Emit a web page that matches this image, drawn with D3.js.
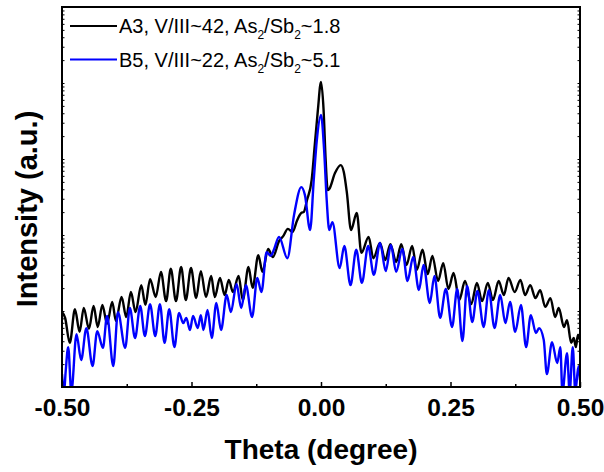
<!DOCTYPE html>
<html>
<head>
<meta charset="utf-8">
<script src="https://cdn.jsdelivr.net/npm/d3@7"></script>
<style>
  body { margin: 0; background: #fff; }
  text { font-family: Arial, "Liberation Sans", sans-serif; }
</style>
</head>
<body>
<div id="chart"></div>
<script>
// theta (degree) and intensity (a.u.) at fringe peaks/troughs
const thetaA3 = [-0.5, -0.494, -0.485, -0.475, -0.466, -0.458, -0.448, -0.439, -0.431, -0.422, -0.413, -0.403, -0.396, -0.385, -0.376, -0.367, -0.358, -0.347, -0.339, -0.330,
  -0.319, -0.309, -0.299, -0.290, -0.280, -0.270, -0.261, -0.251, -0.241, -0.232, -0.222, -0.212, -0.205, -0.195, -0.186, -0.178, -0.170, -0.159, -0.151, -0.140,
  -0.132, -0.121, -0.113, -0.102, -0.093, -0.081, -0.073, -0.064, -0.055, -0.046, -0.038, -0.033, -0.027, -0.018, -0.012, -0.006, 0, 0.005, 0.009, 0.013,
  0.016, 0.027, 0.038, 0.044, 0.050, 0.058, 0.069, 0.078, 0.092, 0.101, 0.114, 0.124, 0.134, 0.145, 0.155, 0.165, 0.176, 0.185, 0.196, 0.206,
  0.215, 0.226, 0.236, 0.246, 0.256, 0.267, 0.278, 0.290, 0.301, 0.311, 0.322, 0.332, 0.343, 0.353, 0.362, 0.374, 0.385, 0.394, 0.404, 0.414,
  0.423, 0.433, 0.443, 0.452, 0.459, 0.469, 0.475, 0.483, 0.488, 0.492, 0.496, 0.5];
const intA3 = [19.7, 18.2, 11.6, 20.5, 14.5, 20.8, 15.3, 21.3, 15.8, 21.6, 16.6, 22.4, 17.4, 23.7, 18.4, 25.0, 19.7, 26.8, 21.6, 28.4,
  23.7, 30.3, 22.6, 31.1, 22.6, 31.6, 22.9, 31.3, 23.4, 30.5, 23.7, 29.2, 23.7, 28.7, 24.2, 28.2, 25.0, 29.2, 22.9, 31.6,
  26.1, 34.7, 30.3, 36.3, 34.2, 38.4, 39.7, 41.6, 40.8, 43.9, 45.8, 46.1, 49.2, 54.5, 63.7, 72.9, 80.3, 72.9, 59.7, 51.8,
  52.1, 56.3, 58.4, 56.6, 51.1, 41.3, 45.8, 35.3, 39.5, 33.9, 37.9, 33.4, 37.6, 32.9, 37.6, 32.1, 37.1, 30.8, 36.1, 29.7,
  34.5, 27.9, 32.6, 25.8, 30.0, 22.9, 27.9, 21.8, 27.4, 22.6, 27.4, 22.9, 27.9, 24.2, 28.7, 25.0, 28.2, 24.2, 26.8, 23.4,
  25.5, 21.1, 23.4, 18.4, 20.8, 15.8, 17.6, 11.6, 12.9, 10.5, 13.7, 12.4];

const thetaB5 = [-0.5, -0.496, -0.493, -0.488, -0.482, -0.472, -0.463, -0.453, -0.441, -0.432, -0.421, -0.413, -0.401, -0.392, -0.378, -0.369, -0.359, -0.349, -0.340, -0.330,
  -0.320, -0.311, -0.302, -0.293, -0.283, -0.274, -0.266, -0.260, -0.253, -0.247, -0.238, -0.232, -0.227, -0.219, -0.211, -0.202, -0.193, -0.182, -0.174, -0.163,
  -0.154, -0.145, -0.133, -0.123, -0.115, -0.105, -0.097, -0.091, -0.081, -0.065, -0.052, -0.038, -0.031, -0.021, -0.014, -0.008, 0, 0.006, 0.011, 0.016,
  0.022, 0.036, 0.045, 0.057, 0.068, 0.079, 0.091, 0.102, 0.114, 0.125, 0.135, 0.145, 0.157, 0.167, 0.178, 0.189, 0.198, 0.210, 0.219, 0.230,
  0.241, 0.253, 0.263, 0.273, 0.282, 0.292, 0.302, 0.314, 0.324, 0.335, 0.346, 0.356, 0.365, 0.375, 0.386, 0.396, 0.405, 0.415, 0.421, 0.430,
  0.436, 0.446, 0.456, 0.462, 0.466, 0.475, 0.480, 0.486, 0.491, 0.497, 0.5];
const intB5 = [3.4, -1.3, 3.9, 10.5, -1.3, 13.9, 7.1, 15.5, 5.5, 14.7, 10.3, 18.7, 5.5, 19.7, 10.3, 20.8, 12.9, 21.3, 13.4, 21.8,
  13.4, 21.8, 11.6, 20.5, 10.5, 19.5, 16.8, 18.2, 15.0, 18.7, 15.5, 18.9, 15.0, 20.3, 12.9, 22.1, 15.0, 24.2, 19.7, 27.1,
  20.8, 26.8, 18.4, 28.7, 25.0, 35.5, 34.5, 36.1, 39.5, 33.9, 45.3, 52.6, 50.5, 41.3, 54.5, 65.0, 71.6, 62.4, 49.2, 41.3,
  43.4, 31.3, 37.1, 26.8, 36.1, 27.4, 37.1, 29.5, 37.9, 30.5, 37.4, 30.3, 36.3, 27.9, 34.2, 25.5, 32.1, 22.1, 29.2, 18.2,
  25.8, 15.8, 25.8, 12.1, 26.6, 17.1, 25.3, 15.8, 25.5, 15.5, 24.2, 16.8, 22.4, 14.5, 21.6, 10.5, 18.9, 14.2, 15.5, 12.4,
  3.4, 11.8, 6.3, 10.5, -1.3, 8.9, -1.3, 10.5, -1.3, 5.5, 1.8];

const xTicks = [-0.5, -0.25, 0, 0.25, 0.5];
const xMinorTicks = [-0.375, -0.125, 0.125, 0.375];
const seriesLabels = [
  ["A3, V/III~42, As", "/Sb", "~1.8"],
  ["B5, V/III~22, As", "/Sb", "~5.1"]
];
const seriesColors = ["#000000", "#0000ff"];

const svgWidth = 604, svgHeight = 472;
const margin = { top: 7, right: 24, bottom: 85, left: 62 };
const width = svgWidth - margin.left - margin.right;
const height = svgHeight - margin.top - margin.bottom;

const svg = d3.select("#chart").append("svg")
    .attr("width", svgWidth)
    .attr("height", svgHeight);

const g = svg.append("g")
    .attr("transform", `translate(${margin.left},${margin.top})`);

const x = d3.scaleLinear().domain([-0.5, 0.5]).range([0, width]);
const y = d3.scaleLinear().domain([0, 100]).range([height, 0]);
// unlabeled log intensity axis, only its little ticks show on the spines
const yLog = d3.scaleLog().domain([1, 1e5]).range([height, 0]);

g.append("clipPath").attr("id", "clip")
  .append("rect").attr("width", width).attr("height", height);

const line = d3.line()
    .x(d => x(d[0]))
    .y(d => y(d[1]))
    .curve(d3.curveMonotoneX);

const series = [
  d3.zip(thetaA3, intA3),
  d3.zip(thetaB5, intB5)
];

g.append("g").attr("clip-path", "url(#clip)")
  .selectAll("path")
  .data(series)
  .join("path")
    .attr("fill", "none")
    .attr("stroke", (d, i) => seriesColors[i])
    .attr("stroke-width", 2.4)
    .attr("stroke-linejoin", "round")
    .attr("d", line);

// x axis, ticks pointing inward
const xAxis = d3.axisBottom(x).tickValues(xTicks).tickSizeInner(-5).tickSizeOuter(0).tickPadding(12);
const gx = g.append("g")
    .attr("transform", `translate(0,${height})`)
    .call(xAxis);
gx.select(".domain").remove();
gx.selectAll("text")
    .attr("font-size", 24.5)
    .attr("font-weight", "bold")
    .attr("font-family", "Arial, 'Liberation Sans', sans-serif")
    .text(d => d3.format(".2f")(d).replace("−", "-"));
gx.selectAll("line").attr("stroke-width", 1.5);

g.append("g")
    .attr("transform", `translate(0,${height})`)
    .call(d3.axisBottom(x).tickValues(xMinorTicks).tickFormat("").tickSizeInner(-3).tickSizeOuter(0))
    .call(a => a.select(".domain").remove())
    .selectAll("line").attr("stroke-width", 1.5);

// y spines: tiny inward ticks, no labels
const logTicks = yLog.ticks();
[[d3.axisLeft, 0], [d3.axisRight, width]].forEach(([axisFn, tx]) => {
  g.append("g")
    .attr("transform", `translate(${tx},0)`)
    .call(axisFn(yLog).tickValues(logTicks).tickFormat("").tickSizeOuter(0).tickSizeInner(0))
    .call(a => a.select(".domain").remove())
    .selectAll(".tick line")
      .attr("x2", d => (tx === 0 ? 1 : -1) * 2.5)
      .attr("stroke-width", 1);
});

// frame
g.append("rect")
    .attr("width", width)
    .attr("height", height)
    .attr("fill", "none")
    .attr("stroke", "#000")
    .attr("stroke-width", 2);

// axis titles
svg.append("text")
    .attr("x", margin.left + width / 2)
    .attr("y", 459)
    .attr("text-anchor", "middle")
    .attr("font-size", 28)
    .attr("font-weight", "bold")
    .text("Theta (degree)");

svg.append("text")
    .attr("transform", `translate(37,${margin.top + height / 2 + 12}) rotate(-90)`)
    .attr("text-anchor", "middle")
    .attr("font-size", 29)
    .attr("font-weight", "bold")
    .text("Intensity (a.u.)");

// legend
const legend = svg.append("g");
seriesLabels.forEach((parts, i) => {
  const ly = 26 + i * 33.5;
  legend.append("line")
    .attr("x1", 70).attr("x2", 117)
    .attr("y1", ly).attr("y2", ly)
    .attr("stroke", seriesColors[i])
    .attr("stroke-width", 2);
  const t = legend.append("text")
    .attr("x", 119)
    .attr("y", ly + 7)
    .attr("font-size", 20);
  t.append("tspan").text(parts[0]);
  t.append("tspan").attr("font-size", 12).attr("dy", 6).text("2");
  t.append("tspan").attr("dy", -6).text(parts[1]);
  t.append("tspan").attr("font-size", 12).attr("dy", 6).text("2");
  t.append("tspan").attr("dy", -6).text(parts[2]);
});
</script>
</body>
</html>
